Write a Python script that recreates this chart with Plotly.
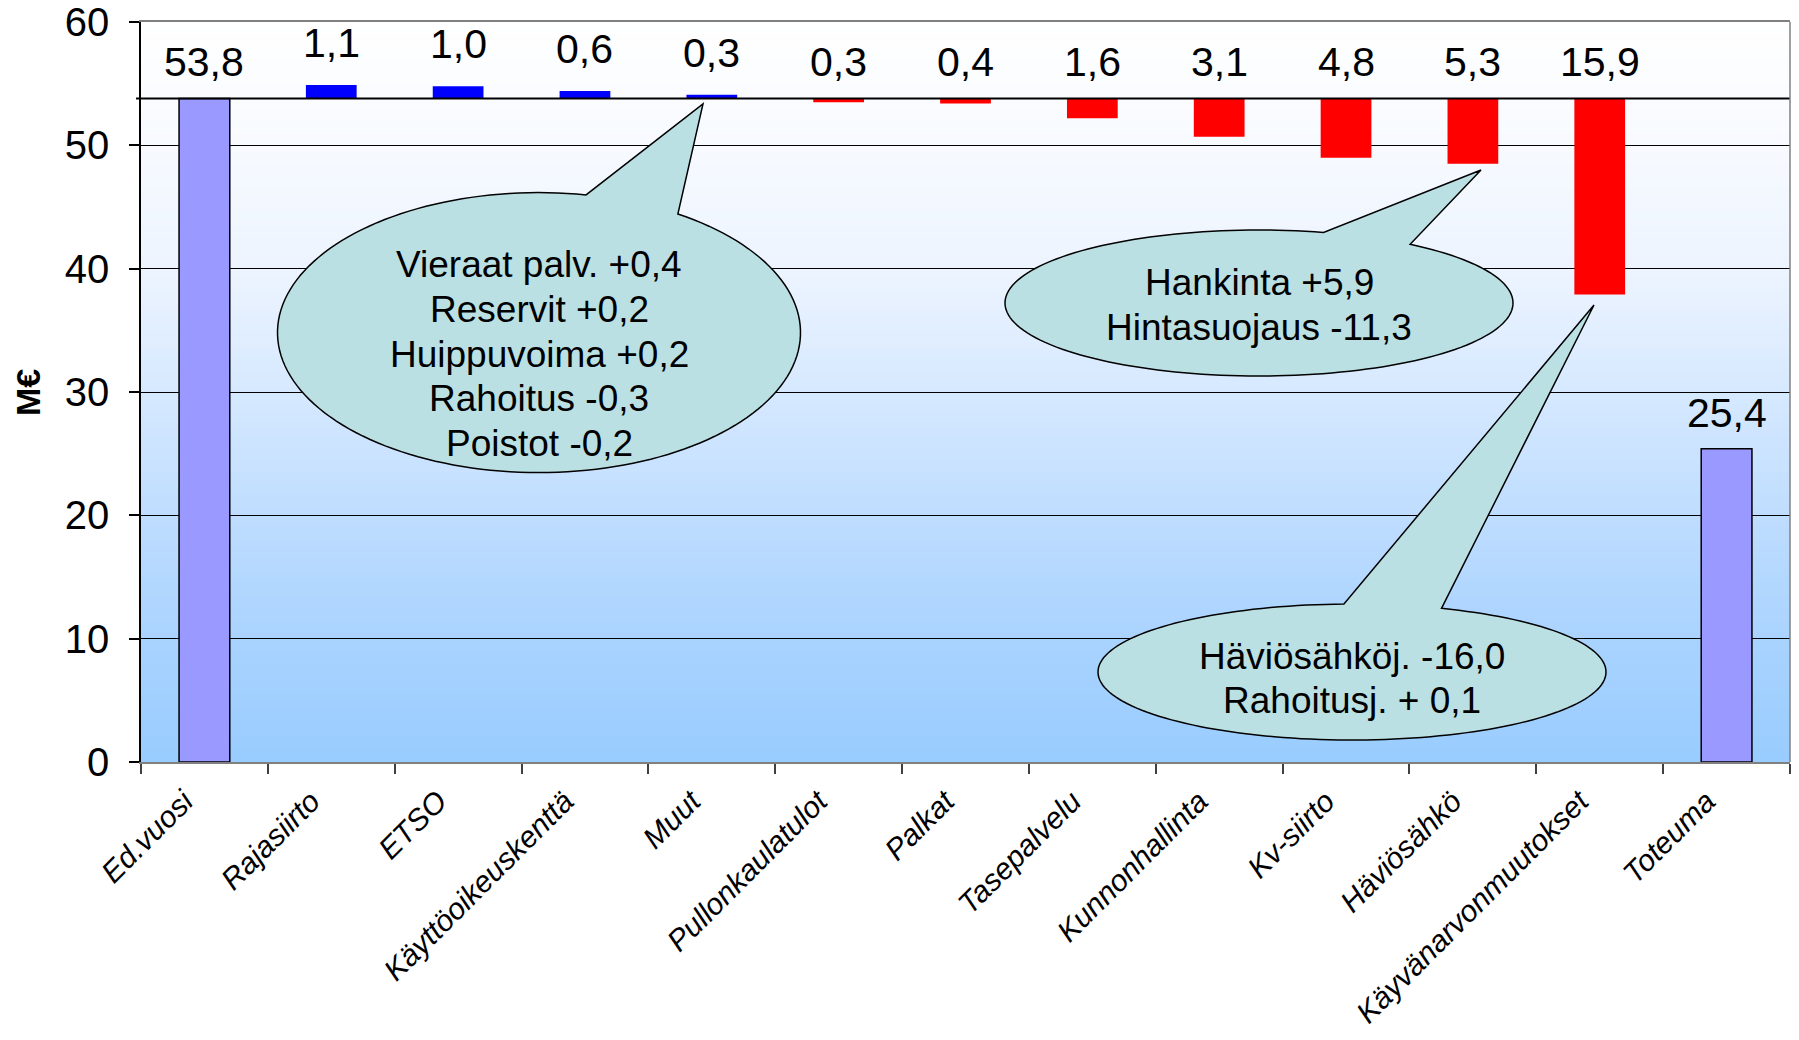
import math
import plotly.graph_objects as go

# ---------------- data ----------------
categories = ["Ed.vuosi", "Rajasiirto", "ETSO", "Käyttöoikeuskenttä", "Muut",
              "Pullonkaulatulot", "Palkat", "Tasepalvelu", "Kunnonhallinta",
              "Kv-siirto", "Häviösähkö", "Käyvänarvonmuutokset", "Toteuma"]
start_value = 53.8
end_value = 25.4
changes = [1.1, 1.0, 0.6, 0.3, -0.3, -0.4, -1.6, -3.1, -4.8, -5.3, -15.9]

callout_texts = [
    ["Vieraat palv. +0,4", "Reservit +0,2", "Huippuvoima +0,2", "Rahoitus -0,3", "Poistot -0,2"],
    ["Hankinta +5,9", "Hintasuojaus -11,3"],
    ["Häviösähköj. -16,0", "Rahoitusj. + 0,1"],
]
y_ticks = [0, 10, 20, 30, 40, 50, 60]

# ---------------- figure geometry ----------------
W, H = 1799, 1040
L, R, T, B = 141, 9, 22, 278
PW, PH = W - L - R, H - T - B


def px(xp):
    return (xp - L) / PW


def py(yp):
    return (T + PH - yp) / PH


FONT = "Liberation Sans, Arial, sans-serif"
C_TOTAL, C_UP, C_DOWN = "#9999FF", "#0000FF", "#FF0000"

values = [start_value] + changes + [end_value]
bases = [0] + [start_value] * len(changes) + [0]
colors = [C_TOTAL] + [C_UP if c >= 0 else C_DOWN for c in changes] + [C_TOTAL]
line_w = [1.5] + [0] * len(changes) + [1.5]

fig = go.Figure()
fig.add_trace(go.Bar(
    x=categories, y=values, base=bases, width=0.4,
    marker=dict(color=colors, line=dict(color="black", width=line_w)),
    hoverinfo="skip", showlegend=False,
))

shapes = []
# gradient background of plot area
stops = [(0.0, (153, 204, 255)), (10 / 60, (169, 211, 255)), (20 / 60, (191, 221, 255)),
         (30 / 60, (214, 233, 255)), (40 / 60, (237, 244, 255)), (50 / 60, (247, 250, 255)),
         (1.0, (255, 255, 255))]


def grad(f):
    for (f0, c0), (f1, c1) in zip(stops[:-1], stops[1:]):
        if f0 <= f <= f1:
            t = (f - f0) / (f1 - f0)
            return "rgb(%d,%d,%d)" % tuple(round(a + (b - a) * t) for a, b in zip(c0, c1))
    return "rgb(255,255,255)"


NB = 120
for i in range(NB):
    f0, f1 = i / NB, (i + 1) / NB
    shapes.append(dict(type="rect", xref="paper", yref="paper", x0=0, x1=1, y0=f0, y1=f1 + 0.002,
                       fillcolor=grad((f0 + f1) / 2), line=dict(width=0), layer="below"))

# baseline at start value
shapes.append(dict(type="line", xref="paper", yref="y", x0=-0.003, x1=1, y0=start_value, y1=start_value,
                   line=dict(color="black", width=2), layer="above"))
# right border
shapes.append(dict(type="line", xref="paper", yref="paper", x0=1, x1=1, y0=0, y1=1,
                   line=dict(color="#808080", width=1.5), layer="above"))


def callout(cx, cy, rx, ry, bl, br, tip):
    def ang(p):
        return math.atan2((p[1] - cy) / ry, (p[0] - cx) / rx)
    a, b = ang(br), ang(bl)
    d = (b - a) % (2 * math.pi)
    delta = d if d > math.pi else d - 2 * math.pi
    n = 160
    pts = []
    for k in range(n + 1):
        t = a + delta * k / n
        pts.append((cx + rx * math.cos(t), cy + ry * math.sin(t)))
    pts.append(tip)
    path = "M " + " L ".join("%.5f,%.5f" % (px(x), py(y)) for x, y in pts) + " Z"
    return dict(type="path", xref="paper", yref="paper", path=path,
                fillcolor="#BBE0E3", line=dict(color="black", width=1.5), layer="above")


callout_geo = [
    dict(cx=539, cy=332.6, rx=261.5, ry=140, bl=(586, 195), br=(679, 213), tip=(703, 104), ty=354, sp=44.6),
    dict(cx=1259, cy=303, rx=254, ry=73, bl=(1323, 233), br=(1411, 244), tip=(1481, 170), ty=305, sp=45),
    dict(cx=1352, cy=672, rx=254, ry=68, bl=(1344, 604.5), br=(1442, 608), tip=(1594, 305), ty=678, sp=44),
]
for g in callout_geo:
    shapes.append(callout(g["cx"], g["cy"], g["rx"], g["ry"], g["bl"], g["br"], g["tip"]))

annotations = []
# value labels
for cat, v, b in zip(categories, values, bases):
    top = max(b, b + v)
    shift = 42 if (b > 0 and v > 0) else 36
    annotations.append(dict(x=cat, y=top, xref="x", yref="y", text=f"{abs(v):.1f}".replace(".", ","),
                            showarrow=False, yanchor="middle", yshift=shift,
                            font=dict(family=FONT, size=41, color="black")))
# callout texts (one annotation per line)
for g, lines in zip(callout_geo, callout_texts):
    n = len(lines)
    for k, line in enumerate(lines):
        yk = g["ty"] + (k - (n - 1) / 2) * g["sp"]
        annotations.append(dict(x=px(g["cx"]), y=py(yk), xref="paper", yref="paper",
                                text=line, showarrow=False, xanchor="center", yanchor="middle",
                                font=dict(family=FONT, size=37, color="black")))
# y title
annotations.append(dict(x=px(28), y=py(392), xref="paper", yref="paper", text="<b>M€</b>",
                        textangle=-90, showarrow=False, xanchor="center", yanchor="middle",
                        font=dict(family=FONT, size=34, color="black")))

fig.update_layout(
    width=W, height=H,
    margin=dict(l=L, r=R, t=T, b=B, autoexpand=False),
    paper_bgcolor="white", plot_bgcolor="white",
    shapes=shapes, annotations=annotations,
    xaxis=dict(type="category", tickson="boundaries", ticks="outside", ticklen=10,
               tickcolor="#404040", tickwidth=1.5, showline=True, linecolor="#808080", linewidth=1.5,
               mirror=True, showgrid=False, tickangle=-45, ticklabelshift=-20, ticklabelstandoff=8,
               tickfont=dict(family=FONT, size=30, color="black", style="italic")),
    yaxis=dict(range=[0, 60], tickvals=y_ticks, ticks="outside", ticklen=10, tickcolor="black",
               tickwidth=1.5, showline=True, linecolor="black", linewidth=1.5, showgrid=True,
               gridcolor="black", gridwidth=1, zeroline=False, ticklabelstandoff=12,
               tickfont=dict(family=FONT, size=40, color="black")),
    bargap=0.6,
)

fig.write_html("out.html", config={"displayModeBar": False},
               post_script="document.body.style.margin='0px';")
